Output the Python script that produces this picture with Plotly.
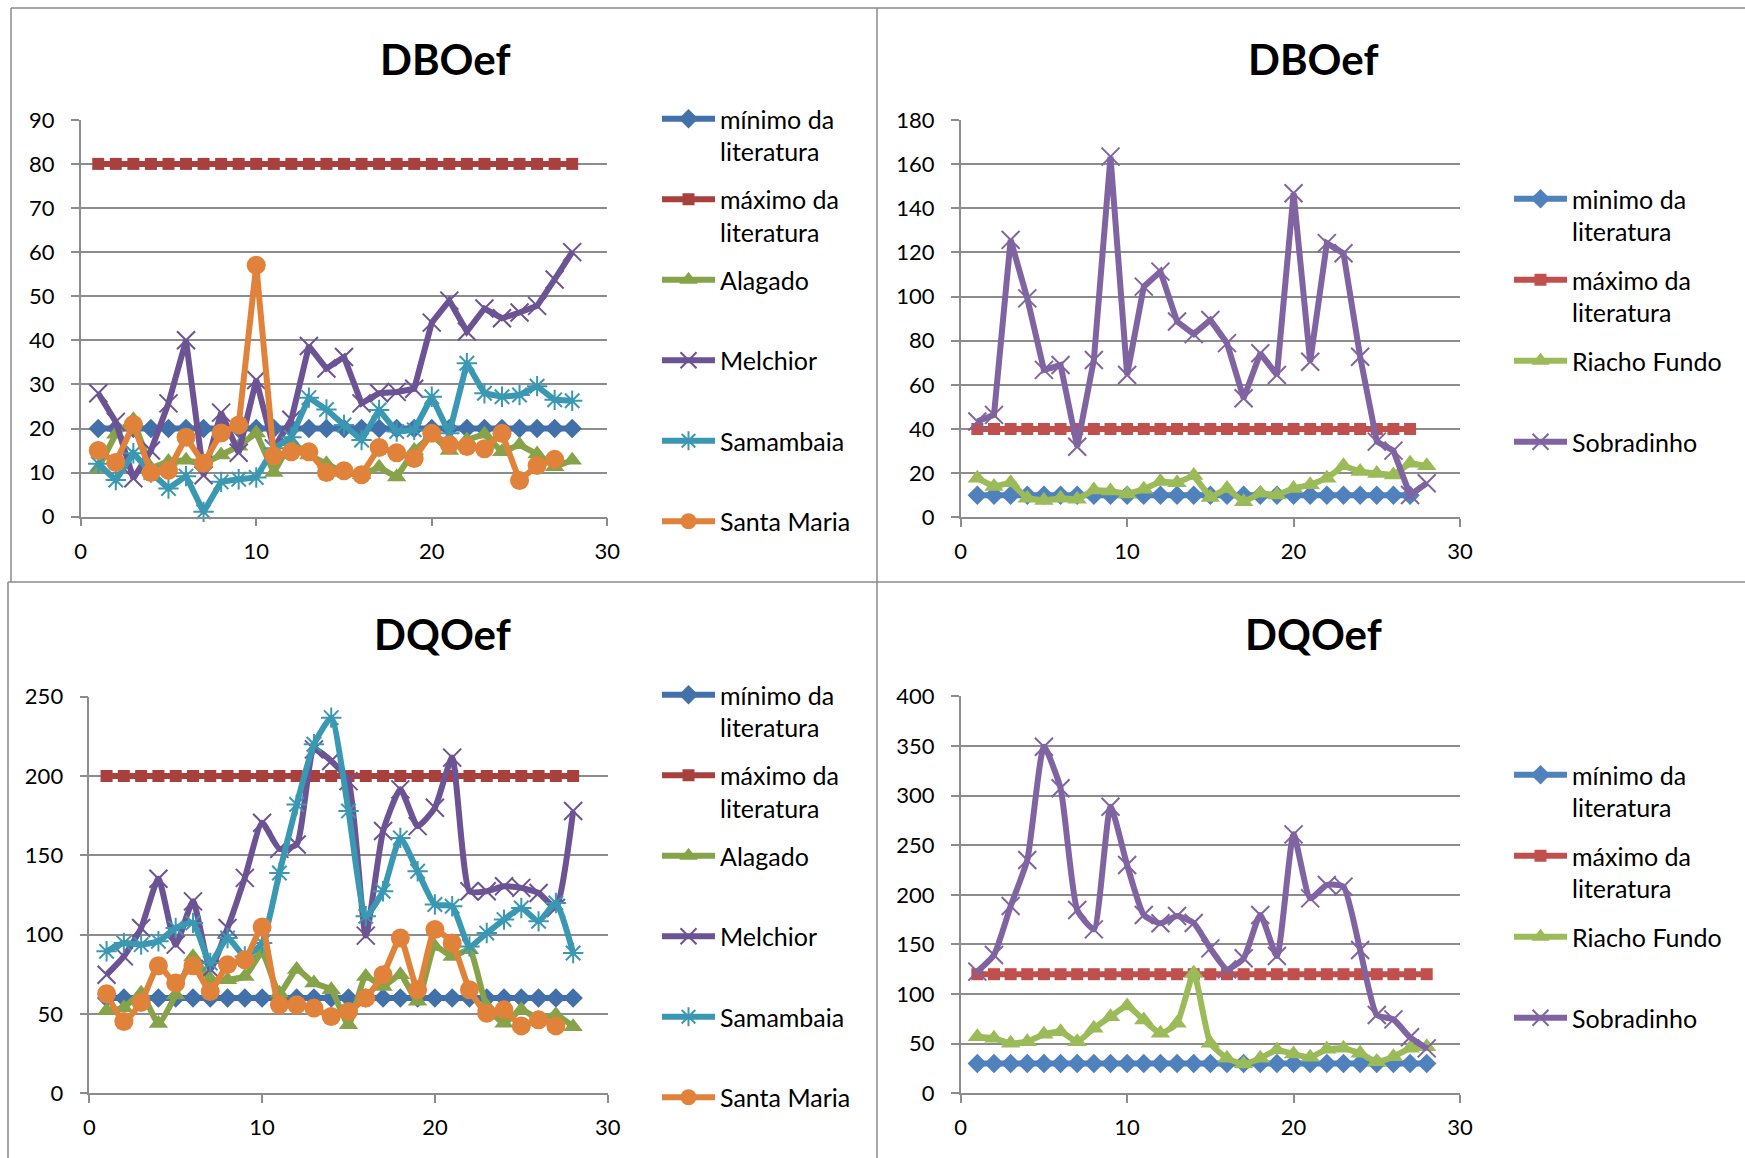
import plotly.graph_objects as go

W, H = 1745, 1158
FONT = "Lato"
GRID = "#8c8c8c"

# ---------------- data ----------------
dias = [1, 2, 3, 4, 5, 6, 7, 8, 9, 10, 11, 12, 13, 14, 15, 16, 17, 18, 19, 20,
        21, 22, 23, 24, 25, 26, 27, 28]
dias27 = [1, 2, 3, 4, 5, 6, 7, 8, 9, 10, 11, 12, 13, 14, 15, 16, 17, 18, 19, 20,
          21, 22, 23, 24, 25, 26, 27]

# DBOef - ETEs Alagado, Melchior, Samambaia, Santa Maria
dbo_min_a = [20, 20, 20, 20, 20, 20, 20, 20, 20, 20, 20, 20, 20, 20, 20, 20, 20, 20, 20, 20,
             20, 20, 20, 20, 20, 20, 20, 20]
dbo_max_a = [80, 80, 80, 80, 80, 80, 80, 80, 80, 80, 80, 80, 80, 80, 80, 80, 80, 80, 80, 80,
             80, 80, 80, 80, 80, 80, 80, 80]
dbo_alagado = [11, 18.7, 22, 11, 12.5, 12.8, 12, 14, 16, 19, 10, 17, 14, 12, 10, 9.5,
               11.2, 9, 15, 18.5, 15, 17.4, 18.7, 14.7, 16.3, 14.2, 11.3, 12.8]
dbo_melchior = [28, 21.5, 8.7, 15, 25.7, 40, 9.4, 23.6, 14.5, 31, 15.5, 22, 38.7, 33.6,
                36.2, 25.7, 28, 28.3, 29, 44, 49, 42, 47.2, 45, 46.3, 47.8, 53.8, 60]
dbo_samambaia = [12, 8.3, 14.4, 10, 6.4, 9.2, 1.1, 7.9, 8.5, 8.9, 15.5, 18, 27, 24.3,
                 20.8, 17.4, 24.2, 19.3, 19.7, 27.2, 18.9, 34.8, 28, 27.2, 27.6, 29.6,
                 26.5, 26.3]
dbo_santamaria = [15, 12.3, 20.9, 10, 10.5, 18, 12.1, 19, 20.8, 57, 13.8, 14.7, 14.7,
                  10, 10.4, 9.5, 15.7, 14.5, 13.2, 18.9, 16.3, 15.9, 15.4, 18.9, 8.2,
                  11.6, 13]

# DBOef - ETEs Riacho Fundo, Sobradinho
dbo_min_b = [10, 10, 10, 10, 10, 10, 10, 10, 10, 10, 10, 10, 10, 10, 10, 10, 10, 10, 10, 10,
             10, 10, 10, 10, 10, 10, 10]
dbo_max_b = [40, 40, 40, 40, 40, 40, 40, 40, 40, 40, 40, 40, 40, 40, 40, 40, 40, 40, 40, 40,
             40, 40, 40, 40, 40, 40, 40]
dbo_riacho = [17.7, 13.9, 15.7, 8.6, 7.6, 8.6, 8.2, 12.4, 11.9, 10.6, 12.7, 16.2, 15.7,
              18.9, 9, 13.1, 7, 10.9, 10.1, 13.1, 14.7, 17.7, 23.3, 20.7, 19.9, 19.2,
              24.5, 23.3]
dbo_sobradinho = [43.4, 46.4, 125.7, 99.2, 66.8, 69, 32, 71.3, 163.4, 64.5, 104.5, 111.3,
                  88.7, 83, 89.4, 78.9, 53.9, 74.3, 64.5, 146.8, 70.5, 124.2, 119.6, 72.7,
                  34.3, 30.2, 10.1, 15.4]

# DQOef - ETEs Alagado, Melchior, Samambaia, Santa Maria
dqo_min_a = [60, 60, 60, 60, 60, 60, 60, 60, 60, 60, 60, 60, 60, 60, 60, 60, 60, 60, 60, 60,
             60, 60, 60, 60, 60, 60, 60, 60]
dqo_max_a = [200, 200, 200, 200, 200, 200, 200, 200, 200, 200, 200, 200, 200, 200, 200,
             200, 200, 200, 200, 200, 200, 200, 200, 200, 200, 200, 200, 200]
dqo_alagado = [52, 54, 63, 44, 62, 86, 72, 71.6, 73.7, 88.4, 63, 78, 69.5, 65.3, 43.2,
               73.7, 67.4, 74.7, 58, 92.6, 86.3, 90.5, 55, 44.2, 52.6, 47, 49.5, 42]
dqo_melchior = [74.7, 86.3, 104.2, 135.2, 93.7, 121, 78.3, 104.2, 135.8, 170.5, 154.1,
                156.8, 216.8, 209.5, 196.8, 99.4, 165.3, 191.6, 168.4, 180, 211.6, 127.4,
                127.4, 130.5, 129.5, 126.3, 116.8, 177.9]
dqo_samambaia = [89.5, 94.7, 93.7, 95.8, 104.2, 107.4, 82.1, 97.9, 86.3, 94.7, 138.9,
                 182.1, 220, 236.8, 178, 111.6, 127.4, 161, 140, 119, 117.9, 92.6, 101,
                 109.5, 116.8, 108.4, 120, 88.4]
dqo_santamaria = [62.7, 45.3, 57.3, 80.4, 69.5, 80.4, 64.2, 81.1, 84.2, 104.8, 55.8, 55.8,
                  53.7, 48.4, 51.6, 60, 74.7, 97.9, 65.3, 103.2, 94.7, 65.3, 50.5, 52.6,
                  42.5, 46.3, 42.5]

# DQOef - ETEs Riacho Fundo, Sobradinho
dqo_min_b = [30, 30, 30, 30, 30, 30, 30, 30, 30, 30, 30, 30, 30, 30, 30, 30, 30, 30, 30, 30,
             30, 30, 30, 30, 30, 30, 30, 30]
dqo_max_b = [120, 120, 120, 120, 120, 120, 120, 120, 120, 120, 120, 120, 120, 120, 120,
             120, 120, 120, 120, 120, 120, 120, 120, 120, 120, 120, 120, 120]
dqo_riacho = [57, 55.4, 50.4, 52, 59.4, 62.1, 52, 65.5, 77.2, 88, 73.9, 60.4, 70.5,
              120.9, 50.4, 35.3, 29.5, 35.3, 43.7, 39.6, 36.3, 44.3, 45.3, 40.3, 31.9,
              36.9, 45.3, 47]
dqo_sobradinho = [122.6, 139.4, 188.7, 235, 349.2, 307.3, 184.7, 165.2, 288.8, 230, 179.7,
                  171.3, 178.6, 171.6, 146, 124.9, 136, 179.7, 138.3, 260.9, 196.4, 209.9,
                  208.2, 144.4, 78.9, 74.5, 56.4, 45.3]

# ---------------- styling ----------------
DARK = dict(azul="#4270a8", vermelho="#a8413e", verde="#86a34a", roxo="#6c5394",
            ciano="#3b98b3", laranja="#e0823a")
LIGHT = dict(azul="#4f81bd", vermelho="#c0504d", verde="#9bbb59", roxo="#8064a2")

SIMB = {  # symbol, size
    "min": ("diamond", 15),
    "max": ("square", 12),
    "tri": ("triangle-up", 17),
    "x": ("x-thin", 18),
    "ast": ("asterisk", 17),
    "circ": ("circle", 19),
}


def fx(p):
    return p / W


def fy(p):
    return 1 - p / H


fig = go.Figure()


def serie(nome, x, y, cor, tipo, eixo, legenda, smooth=False):
    n = "" if eixo == 1 else str(eixo)
    simbolo, tam = SIMB[tipo]
    marker = dict(symbol=simbolo, size=tam, color=cor, line=dict(width=0, color=cor))
    if simbolo in ("x-thin", "asterisk"):
        marker["line"] = dict(width=2, color=cor)
    fig.add_trace(go.Scatter(
        x=x, y=y, name=nome, mode="lines+markers",
        line=dict(color=cor, width=6, shape="spline" if smooth else "linear",
                  smoothing=0.5),
        marker=marker, xaxis="x" + n, yaxis="y" + n, legend=legenda,
        legendgroup=legenda + nome, cliponaxis=False, hoverinfo="skip"))


LBL_MIN = "mínimo da<br>literatura"
LBL_MAX = "máximo da<br>literatura"

# painel 1 - DBOef (ETEs grandes)
serie(LBL_MIN, dias, dbo_min_a, DARK["azul"], "min", 1, "legend")
serie(LBL_MAX, dias, dbo_max_a, DARK["vermelho"], "max", 1, "legend")
serie("Alagado<br> ", dias, dbo_alagado, DARK["verde"], "tri", 1, "legend")
serie("Melchior<br> ", dias, dbo_melchior, DARK["roxo"], "x", 1, "legend")
serie("Samambaia<br> ", dias, dbo_samambaia, DARK["ciano"], "ast", 1, "legend")
serie("Santa Maria<br> ", dias27, dbo_santamaria, DARK["laranja"], "circ", 1, "legend")

# painel 2 - DBOef (Riacho Fundo, Sobradinho)
serie("minimo da<br>literatura", dias27, dbo_min_b, LIGHT["azul"], "min", 2, "legend2")
serie(LBL_MAX, dias27, dbo_max_b, LIGHT["vermelho"], "max", 2, "legend2")
serie("Riacho Fundo<br> ", dias, dbo_riacho, LIGHT["verde"], "tri", 2, "legend2")
serie("Sobradinho<br> ", dias, dbo_sobradinho, LIGHT["roxo"], "x", 2, "legend2")

# painel 3 - DQOef (ETEs grandes)
serie(LBL_MIN, dias, dqo_min_a, DARK["azul"], "min", 3, "legend3", True)
serie(LBL_MAX, dias, dqo_max_a, DARK["vermelho"], "max", 3, "legend3", True)
serie("Alagado<br> ", dias, dqo_alagado, DARK["verde"], "tri", 3, "legend3", True)
serie("Melchior<br> ", dias, dqo_melchior, DARK["roxo"], "x", 3, "legend3", True)
serie("Samambaia<br> ", dias, dqo_samambaia, DARK["ciano"], "ast", 3, "legend3", True)
serie("Santa Maria<br> ", dias27, dqo_santamaria, DARK["laranja"], "circ", 3, "legend3", True)

# painel 4 - DQOef (Riacho Fundo, Sobradinho)
serie(LBL_MIN, dias, dqo_min_b, LIGHT["azul"], "min", 4, "legend4", True)
serie(LBL_MAX, dias, dqo_max_b, LIGHT["vermelho"], "max", 4, "legend4", True)
serie("Riacho Fundo<br> ", dias, dqo_riacho, LIGHT["verde"], "tri", 4, "legend4", True)
serie("Sobradinho<br> ", dias, dqo_sobradinho, LIGHT["roxo"], "x", 4, "legend4", True)

tick_font = dict(family=FONT, size=22, color="black")


def eixo_x(x0, x1, anchor):
    return dict(domain=[fx(x0), fx(x1)], anchor=anchor, range=[0, 30], tick0=0, dtick=10,
                showgrid=False, zeroline=False, showline=True, linecolor=GRID,
                linewidth=1.5, ticks="outside", ticklen=8, tickwidth=1.5,
                tickcolor=GRID, tickfont=tick_font, ticklabelstandoff=6,
                automargin=False, fixedrange=True)


def eixo_y(top, bottom, anchor, ymax, passo):
    return dict(domain=[fy(bottom), fy(top)], anchor=anchor, range=[0, ymax], tick0=0,
                dtick=passo, showgrid=True, gridcolor=GRID, gridwidth=1.5,
                zeroline=False, showline=True, linecolor=GRID, linewidth=1.5,
                ticks="outside", ticklen=8, tickwidth=1.5, tickcolor=GRID,
                tickfont=tick_font, ticklabelstandoff=12, automargin=False,
                fixedrange=True)


def legenda(x, y, gap):
    return dict(x=fx(x), y=fy(y), xanchor="left", yanchor="top",
                font=dict(family=FONT, size=25, color="black"), itemwidth=53,
                tracegroupgap=gap, valign="top", bgcolor="rgba(0,0,0,0)",
                traceorder="grouped", borderwidth=0)


titulos = [("DBOef", 445, 59), ("DBOef", 1313, 59), ("DQOef", 443, 634), ("DQOef", 1313, 634)]

bordas = [(11, 8, 1745, 8), (11, 8, 11, 582), (877, 8, 877, 1158), (8, 582, 1745, 582),
          (8, 582, 8, 1158)]

fig.update_layout(
    width=W, height=H, autosize=False,
    margin=dict(l=0, r=0, t=0, b=0, pad=0, autoexpand=False),
    paper_bgcolor="white", plot_bgcolor="rgba(0,0,0,0)",
    font=dict(family=FONT, color="black"),
    xaxis=eixo_x(80.7, 607.3, "y"),
    yaxis=eixo_y(119.8, 516.7, "x", 90, 10),
    xaxis2=eixo_x(960.7, 1460, "y2"),
    yaxis2=eixo_y(120, 517.3, "x2", 180, 20),
    xaxis3=eixo_x(89.3, 607.7, "y3"),
    yaxis3=eixo_y(696.7, 1093.3, "x3", 250, 50),
    xaxis4=eixo_x(960.7, 1460, "y4"),
    yaxis4=eixo_y(696.3, 1093.3, "x4", 400, 50),
    legend=legenda(657, 96, 12.5),
    legend2=legenda(1509, 176, 13),
    legend3=legenda(657, 672, 12.5),
    legend4=legenda(1509, 752, 13),
    annotations=[dict(text="<b>%s</b>" % t, x=fx(cx), y=fy(cy), xref="paper", yref="paper",
                      xanchor="center", yanchor="middle", showarrow=False,
                      font=dict(family=FONT, size=42, color="black"))
                 for t, cx, cy in titulos],
    shapes=[dict(type="line", xref="paper", yref="paper", x0=fx(a), y0=fy(b), x1=fx(c),
                 y1=fy(d), line=dict(color="#8a8a8a", width=1.5))
            for a, b, c, d in bordas],
)

fig.write_html("out.html")
